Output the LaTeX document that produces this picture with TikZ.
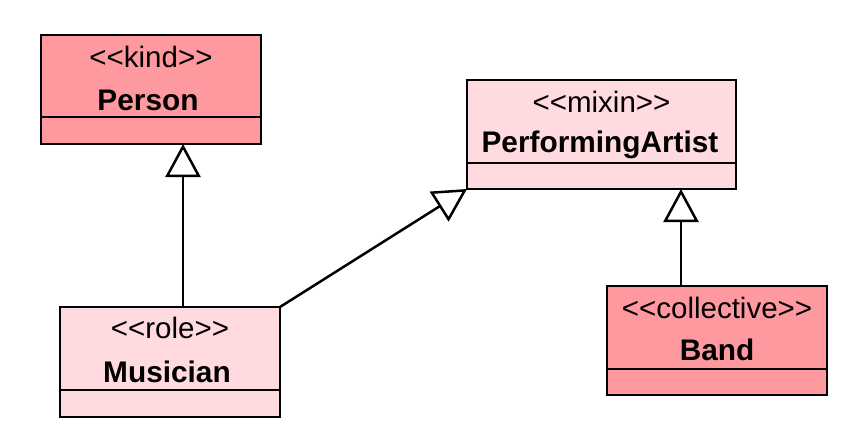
\documentclass[tikz,border=0pt]{standalone}
\usepackage{fontspec}
\setmainfont{Liberation Sans}
\usetikzlibrary{arrows.meta}
\definecolor{darkpink}{RGB}{255,153,160}
\definecolor{lightpink}{RGB}{255,218,222}
\begin{document}
\begin{tikzpicture}[x=1pt,y=-1pt,
  classbox/.style={draw=black, line width=2.5pt, inner sep=0pt, outer sep=0pt, minimum height=109pt},
  stereo/.style={font=\fontsize{29.5}{32}\selectfont, inner sep=0pt},
  cname/.style={font=\fontsize{29.8}{32}\selectfont\bfseries, inner sep=0pt},
  gen/.style={line width=2.5pt, -{Triangle[open, length=33pt, width=35pt, fill=white, line width=2.5pt]}},
  divider/.style={line width=2.5pt}
]
\useasboundingbox (0,0) rectangle (861,436);
% boxes
\node[classbox, fill=darkpink, minimum width=220pt] (person) at (151,89.5) {};
\node[classbox, fill=lightpink, minimum width=269pt] (pa) at (601.5,134.5) {};
\node[classbox, fill=lightpink, minimum width=220pt, minimum height=110pt] (musician) at (170,362) {};
\node[classbox, fill=darkpink, minimum width=220pt] (band) at (717,340.5) {};
% dividers
\draw[divider] ([yshift=27pt]person.south west) -- ([yshift=27pt]person.south east);
\draw[divider] ([yshift=26pt]pa.south west) -- ([yshift=26pt]pa.south east);
\draw[divider] ([yshift=27pt]musician.south west) -- ([yshift=27pt]musician.south east);
\draw[divider] ([yshift=26pt]band.south west) -- ([yshift=26pt]band.south east);
% texts
\node[stereo] (personst) at (151,57) {<{}<kind>{}>};
\node[cname] (personnm) at (148,100) {Person};
\node[stereo] (past) at (601.5,102) {<{}<mixin>{}>};
\node[cname] (panm) at (600,145) {PerformingArtist};
\node[stereo] (musst) at (170,328) {<{}<role>{}>};
\node[cname] (musnm) at (167,372) {Musician};
\node[stereo] (bandst) at (717,308) {<{}<collective>{}>};
\node[cname] (bandnm) at (717,350) {Band};
% connectors
\draw[gen] ([xshift=13pt]musician.north) -- ([xshift=32pt]person.south);
\draw[gen] (musician.north east) -- (pa.south west);
\draw[gen] ([xshift=-36pt]band.north) -- ([xshift=79.5pt]pa.south);
\end{tikzpicture}
\end{document}
